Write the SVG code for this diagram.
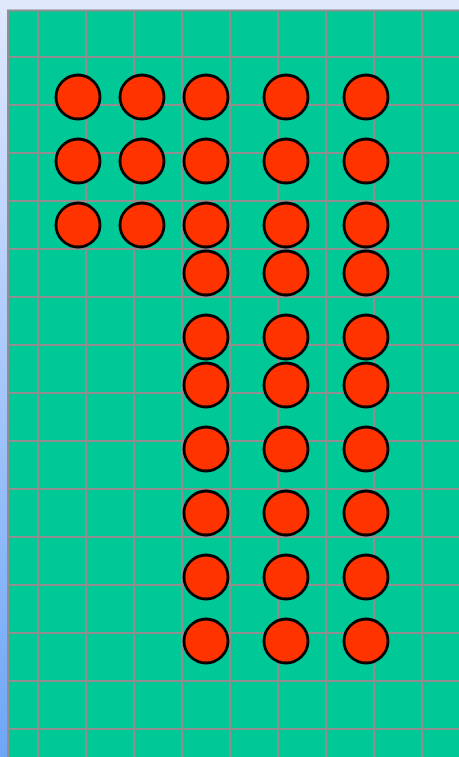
<svg xmlns="http://www.w3.org/2000/svg" width="459" height="757" viewBox="0 0 459 757">
<defs>
<linearGradient id="bg" x1="0" y1="0" x2="0" y2="1">
<stop offset="0" stop-color="#e0e8fc"/>
<stop offset="1" stop-color="#6ea6f6"/>
</linearGradient>
<style>
.g{stroke:#8f8f8f;stroke-width:2;fill:none}
.c{fill:#ff3300;stroke:#000;stroke-width:2.8}
</style>
</defs>
<rect x="0" y="0" width="459" height="757" fill="url(#bg)"/>
<rect x="7" y="10" width="452" height="747" fill="#00c896"/>
<g id="grid" class="g">
<path d="M8 10V757M38 10V757M86 10V757M134 10V757M182 10V757M230 10V757M278 10V757M326 10V757M374 10V757M422 10V757"/>
<path d="M7 10.5H459M7 57H459M7 105H459M7 153H459M7 201H459M7 249H459M7 297H459M7 345H459M7 393H459M7 441H459M7 489H459M7 537H459M7 585H459M7 633H459M7 681H459M7 729H459"/>
</g>
<g id="dots">
<circle class="c" cx="78" cy="97" r="22"/>
<circle class="c" cx="142" cy="97" r="22"/>
<circle class="c" cx="78" cy="161" r="22"/>
<circle class="c" cx="142" cy="161" r="22"/>
<circle class="c" cx="78" cy="225" r="22"/>
<circle class="c" cx="142" cy="225" r="22"/>
<g id="col206">
<circle class="c" cx="206" cy="97" r="22"/>
<circle class="c" cx="206" cy="161" r="22"/>
<circle class="c" cx="206" cy="225" r="22"/>
<circle class="c" cx="206" cy="273" r="22"/>
<circle class="c" cx="206" cy="337" r="22"/>
<circle class="c" cx="206" cy="385" r="22"/>
<circle class="c" cx="206" cy="449" r="22"/>
<circle class="c" cx="206" cy="513" r="22"/>
<circle class="c" cx="206" cy="577" r="22"/>
<circle class="c" cx="206" cy="641" r="22"/>
</g>
<g id="col286">
<circle class="c" cx="286" cy="97" r="22"/>
<circle class="c" cx="286" cy="161" r="22"/>
<circle class="c" cx="286" cy="225" r="22"/>
<circle class="c" cx="286" cy="273" r="22"/>
<circle class="c" cx="286" cy="337" r="22"/>
<circle class="c" cx="286" cy="385" r="22"/>
<circle class="c" cx="286" cy="449" r="22"/>
<circle class="c" cx="286" cy="513" r="22"/>
<circle class="c" cx="286" cy="577" r="22"/>
<circle class="c" cx="286" cy="641" r="22"/>
</g>
<g id="col366">
<circle class="c" cx="366" cy="97" r="22"/>
<circle class="c" cx="366" cy="161" r="22"/>
<circle class="c" cx="366" cy="225" r="22"/>
<circle class="c" cx="366" cy="273" r="22"/>
<circle class="c" cx="366" cy="337" r="22"/>
<circle class="c" cx="366" cy="385" r="22"/>
<circle class="c" cx="366" cy="449" r="22"/>
<circle class="c" cx="366" cy="513" r="22"/>
<circle class="c" cx="366" cy="577" r="22"/>
<circle class="c" cx="366" cy="641" r="22"/>
</g>
</g>
</svg>
